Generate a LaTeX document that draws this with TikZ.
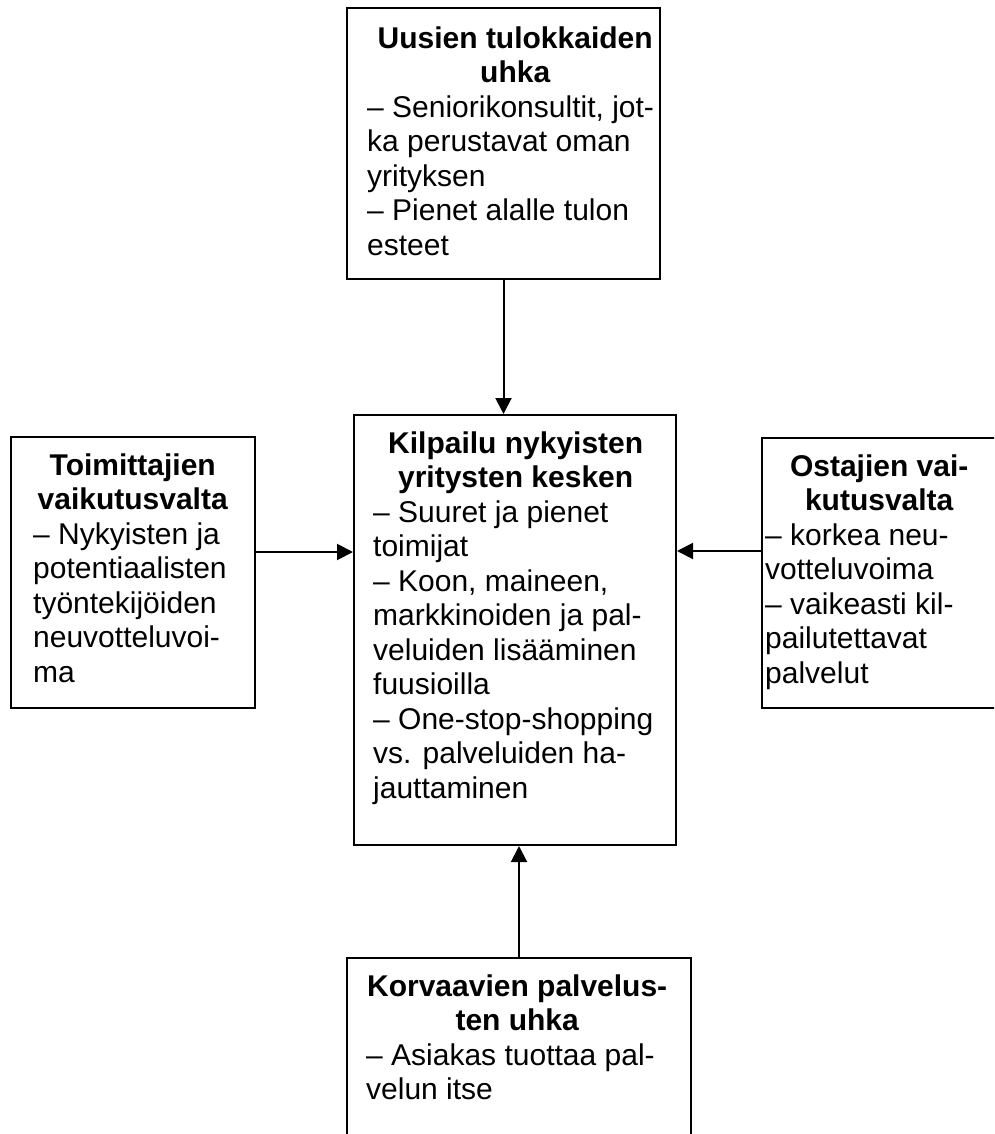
\documentclass[tikz,border=0pt]{standalone}
\usepackage{fontspec}
\setmainfont{Liberation Sans}
\usetikzlibrary{arrows.meta}
\newcommand\boldline[2]{\makebox[#1][c]{\bfseries #2}}
\begin{document}
\begin{tikzpicture}[x=1pt,y=-1pt,
  box/.style={draw, line width=2pt, inner sep=0pt},
  txt/.style={anchor=north west, inner sep=0pt, align=left, font=\fontsize{30}{34.5}\selectfont},
  arr/.style={line width=2pt, -{Triangle[length=16pt,width=16pt]}}]
\useasboundingbox (0,0) rectangle (994,1134);
\clip (0,0) rectangle (994,1134);
% boxes
\node[box, minimum width=313pt, minimum height=271pt] (top) at (503.5,143.5) {};
\node[box, minimum width=322pt, minimum height=430pt] (cen) at (515,630) {};
\node[box, minimum width=244pt, minimum height=271pt] (lft) at (133,572.5) {};
\node[box, minimum width=248pt, minimum height=270pt] (rgt) at (886,573) {};
\node[box, minimum width=344pt, minimum height=192pt] (bot) at (519,1054) {};
% texts
\node[txt] (ttop) at (367,23.85) {\strut\boldline{296pt}{Uusien tulokkaiden}\\
\boldline{296pt}{uhka}\\
– Seniorikonsultit, jot-\\
ka perustavat oman\\
yrityksen\\
– Pienet alalle tulon\\
esteet};
\node[txt] (tcen) at (373,428.85) {\strut\boldline{285pt}{Kilpailu nykyisten}\\
\boldline{285pt}{yritysten kesken}\\
– Suuret ja pienet\\
toimijat\\
– Koon, maineen,\\
markkinoiden ja pal-\\
veluiden lisääminen\\
fuusioilla\\
– One-stop-shopping\\
vs. palveluiden ha-\\
jauttaminen};
\node[txt] (tlft) at (33,450.85) {\strut\boldline{199pt}{Toimittajien}\\
\boldline{199pt}{vaikutusvalta}\\
– Nykyisten ja\\
potentiaalisten\\
työntekijöiden\\
neuvotteluvoi-\\
ma};
\node[txt] (trgt) at (765,451.85) {\strut\boldline{228pt}{Ostajien vai-}\\
\boldline{228pt}{kutusvalta}\\
– korkea neu-\\
votteluvoima\\
– vaikeasti kil-\\
pailutettavat\\
palvelut};
\node[txt] (tbot) at (366,971.85) {\strut\boldline{302pt}{Korvaavien palvelus-}\\
\boldline{302pt}{ten uhka}\\
– Asiakas tuottaa pal-\\
velun itse};
% connectors
\coordinate (ly) at (0,552);
\coordinate (ry) at (0,551);
\draw[arr] (top.south) -- (top.south |- cen.north);
\draw[arr] (bot.north) -- (bot.north |- cen.south);
\draw[arr] (lft.east |- ly) -- (cen.west |- ly);
\draw[arr] (rgt.west |- ry) -- (cen.east |- ry);
\end{tikzpicture}
\end{document}
